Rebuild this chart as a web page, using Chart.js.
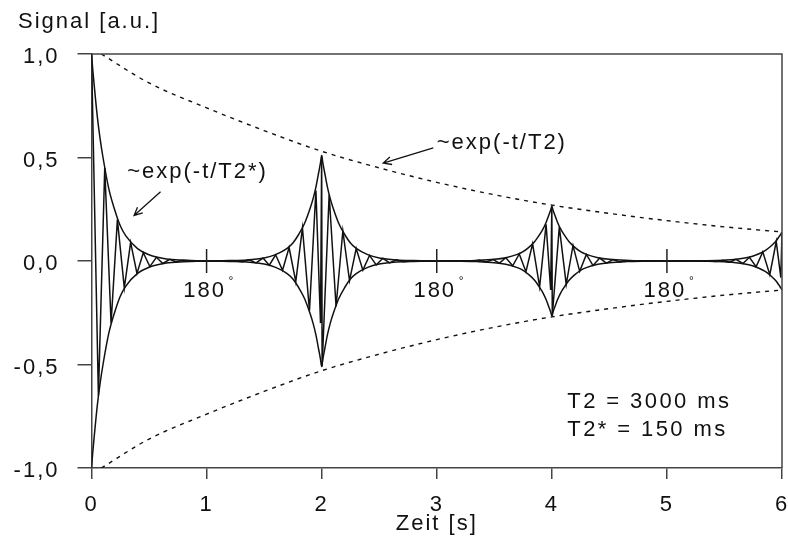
<!DOCTYPE html>
<html>
<head>
<meta charset="utf-8">
<script src="https://cdn.jsdelivr.net/npm/chart.js@4.4.1/dist/chart.umd.min.js"></script>
<style>
  html, body { margin: 0; padding: 0; background: #fff; }
</style>
</head>
<body>
<canvas id="echoChart" width="788" height="540"></canvas>
<script>
// signal (zigzag between the envelopes)
const sigT = [
  0, 0.06, 0.115, 0.17, 0.225, 0.285, 0.34, 0.395, 0.45, 0.507, 0.564, 0.62, 0.68, 0.735, 0.79, 0.9, 1.25,
  1.31, 1.37, 1.43, 1.49, 1.545, 1.6, 1.66, 1.717, 1.775, 1.833, 1.894, 1.95, 1.99, 2.0, 2.004,
  2.065, 2.125, 2.184, 2.242, 2.3, 2.358, 2.416, 2.474, 2.532, 2.59, 2.648, 2.706, 2.8, 3.3,
  3.37, 3.43, 3.49, 3.545, 3.6, 3.66, 3.717, 3.775, 3.833, 3.894, 3.95, 3.99, 4.0, 4.004,
  4.065, 4.125, 4.184, 4.242, 4.3, 4.358, 4.416, 4.474, 4.532, 4.59, 4.648, 4.8, 5.35,
  5.43, 5.49, 5.545, 5.6, 5.66, 5.717, 5.775, 5.833, 5.894, 5.95, 5.99, 6.0
];
const sigV = [
  1.0, -0.65, 0.45, -0.3, 0.2, -0.13, 0.09, -0.06, 0.04, -0.027, 0.018, -0.012, 0.008, -0.005, 0.003, 0, 0,
  -0.004, 0.006, -0.009, 0.014, -0.02, 0.03, -0.045, 0.065, -0.1, 0.16, -0.24, 0.34, -0.3, 0.51, -0.51,
  0.32, -0.22, 0.145, -0.095, 0.06, -0.044, 0.027, -0.019, 0.013, -0.009, 0.006, -0.004, 0, 0,
  0.003, -0.005, 0.007, -0.01, 0.016, -0.023, 0.034, -0.052, 0.083, -0.125, 0.177, -0.14, 0.265, -0.265,
  0.165, -0.113, 0.075, -0.05, 0.032, -0.022, 0.014, -0.01, 0.007, -0.005, 0.003, 0, 0,
  -0.002, 0.004, -0.006, 0.008, -0.012, 0.018, -0.028, 0.044, -0.066, 0.094, -0.08, 0.14
];

// T2* envelope (magnitude)
const envT = [
  0, 0.01, 0.025, 0.05, 0.075, 0.1, 0.15, 0.2, 0.25, 0.3, 0.4, 0.5, 0.65, 0.8, 1.0,
  1.2, 1.35, 1.5, 1.6, 1.7, 1.75, 1.8, 1.85, 1.9, 1.925, 1.95, 1.975, 1.99, 2.0,
  2.01, 2.025, 2.05, 2.075, 2.1, 2.15, 2.2, 2.25, 2.3, 2.4, 2.5, 2.65, 2.8, 3.0,
  3.2, 3.35, 3.5, 3.6, 3.7, 3.75, 3.8, 3.85, 3.9, 3.925, 3.95, 3.975, 3.99, 4.0,
  4.01, 4.025, 4.05, 4.075, 4.1, 4.15, 4.2, 4.25, 4.3, 4.4, 4.5, 4.65, 4.8, 5.0,
  5.2, 5.35, 5.5, 5.6, 5.7, 5.75, 5.8, 5.85, 5.9, 5.925, 5.95, 5.975, 5.99, 6.0
];
const envV = [
  1.0, 0.93, 0.84, 0.7, 0.59, 0.5, 0.35, 0.25, 0.17, 0.12, 0.06, 0.03, 0.01, 0.004, 0,
  0.002, 0.005, 0.015, 0.031, 0.061, 0.087, 0.128, 0.18, 0.255, 0.3, 0.357, 0.43, 0.475, 0.51,
  0.475, 0.43, 0.357, 0.3, 0.255, 0.18, 0.128, 0.087, 0.061, 0.031, 0.015, 0.005, 0.002, 0,
  0.001, 0.003, 0.008, 0.016, 0.032, 0.045, 0.066, 0.093, 0.133, 0.156, 0.186, 0.223, 0.246, 0.265,
  0.246, 0.223, 0.186, 0.156, 0.133, 0.093, 0.066, 0.045, 0.032, 0.016, 0.008, 0.003, 0.001, 0,
  0, 0.001, 0.004, 0.008, 0.017, 0.024, 0.035, 0.049, 0.07, 0.083, 0.098, 0.118, 0.13, 0.14
];

// T2 decay (dotted)
const decT = [0.085, 0.5, 1, 1.5, 2, 2.5, 3, 3.5, 4, 4.5, 5, 5.5, 6];
const decV = [1.0, 0.86, 0.74, 0.63, 0.53, 0.45, 0.38, 0.32, 0.27, 0.23, 0.195, 0.165, 0.14];

// 180° pulses
const pulseT = [1, 3, 5];

// ticks
const xTickVals = [0, 1, 2, 3, 4, 5, 6];
const xTickLabels = ['0', '1', '2', '3', '4', '5', '6'];
const yTickVals = [-1, -0.5, 0, 0.5, 1];
const yTickLabels = ['-1,0', '-0,5', '0,0', '0,5', '1,0'];

const FONT = "'Liberation Sans', Arial, sans-serif";
const SPACING = '2px';

function pts(ts, vs, sign) {
  return ts.map((t, i) => ({x: t, y: sign * vs[i]}));
}

function arrow(ctx, x1, y1, x2, y2) {
  const a = Math.atan2(y2 - y1, x2 - x1);
  const h = 9;
  ctx.beginPath();
  ctx.moveTo(x1, y1);
  ctx.lineTo(x2, y2);
  ctx.moveTo(x2 - h * Math.cos(a - 0.45), y2 - h * Math.sin(a - 0.45));
  ctx.lineTo(x2, y2);
  ctx.lineTo(x2 - h * Math.cos(a + 0.45), y2 - h * Math.sin(a + 0.45));
  ctx.stroke();
}

const extras = {
  id: 'extras',
  beforeUpdate(chart) { chart.ctx.letterSpacing = SPACING; },
  beforeDraw(chart) { chart.ctx.letterSpacing = SPACING; },
  afterDraw(chart) {
    const {ctx, chartArea: a, scales: {x, y}} = chart;
    ctx.save();
    ctx.letterSpacing = SPACING;

    // frame top + right
    ctx.strokeStyle = '#444';
    ctx.lineWidth = 1.5;
    ctx.beginPath();
    ctx.moveTo(a.left, a.top);
    ctx.lineTo(a.right, a.top);
    ctx.lineTo(a.right, a.bottom);
    ctx.stroke();

    // 180° markers on the zero line
    const y0 = y.getPixelForValue(0);
    ctx.strokeStyle = '#222';
    ctx.fillStyle = '#111';
    ctx.textBaseline = 'middle';
    pulseT.forEach(t => {
      const px = x.getPixelForValue(t);
      ctx.beginPath();
      ctx.moveTo(px, y0 - 12);
      ctx.lineTo(px, y0 + 12);
      ctx.stroke();
      ctx.font = '22px ' + FONT;
      ctx.textAlign = 'center';
      ctx.fillText('180', px - 2, y0 + 30);
      ctx.font = '12px ' + FONT;
      ctx.textAlign = 'left';
      ctx.fillText('°', px + 22, y0 + 21);
    });

    // labels
    ctx.font = '22px ' + FONT;
    ctx.textAlign = 'left';
    ctx.fillText('Signal [a.u.]', 18, 22);
    ctx.fillText('~exp(-t/T2*)', x.getPixelForValue(0.31), y.getPixelForValue(0.43));
    ctx.fillText('~exp(-t/T2)', x.getPixelForValue(3.0), y.getPixelForValue(0.57));

    ctx.letterSpacing = '2.4px';
    ctx.fillText('T2 = 3000 ms', x.getPixelForValue(4.135), y.getPixelForValue(-0.68));
    ctx.fillText('T2* = 150 ms', x.getPixelForValue(4.135), y.getPixelForValue(-0.816));

    // arrows
    ctx.strokeStyle = '#111';
    ctx.lineWidth = 1.3;
    arrow(ctx, x.getPixelForValue(0.6), y.getPixelForValue(0.335),
               x.getPixelForValue(0.37), y.getPixelForValue(0.22));
    arrow(ctx, x.getPixelForValue(2.97), y.getPixelForValue(0.546),
               x.getPixelForValue(2.535), y.getPixelForValue(0.473));
    ctx.restore();
  }
};

const lineStyle = {borderColor: '#111', pointRadius: 0, fill: false};

const config = {
  type: 'line',
  data: {
    datasets: [
      Object.assign({data: pts(decT, decV, 1), borderWidth: 1.4, borderDash: [4, 5], cubicInterpolationMode: 'monotone'}, lineStyle),
      Object.assign({data: pts(decT, decV, -1), borderWidth: 1.4, borderDash: [4, 5], cubicInterpolationMode: 'monotone'}, lineStyle),
      Object.assign({data: pts(envT, envV, 1), borderWidth: 1.5, cubicInterpolationMode: 'monotone'}, lineStyle),
      Object.assign({data: pts(envT, envV, -1), borderWidth: 1.5, cubicInterpolationMode: 'monotone'}, lineStyle),
      Object.assign({data: pts(sigT, sigV, 1), borderWidth: 1.5, tension: 0}, lineStyle)
    ]
  },
  options: {
    responsive: false,
    animation: false,
    layout: {padding: {top: 54, right: 6, left: 0, bottom: 0}},
    plugins: {legend: {display: false}, tooltip: {enabled: false}},
    scales: {
      x: {
        type: 'linear', min: 0, max: 6,
        afterBuildTicks: s => { s.ticks = xTickVals.map(v => ({value: v})); },
        afterFit: s => { s.height = 72; s.paddingLeft = 0; s.paddingRight = 0; },
        grid: {drawOnChartArea: false, drawTicks: true, tickLength: 11, color: '#444', lineWidth: 1.5},
        border: {display: true, color: '#444', width: 1.5},
        ticks: {
          padding: 13, color: '#111', maxRotation: 0,
          font: {family: FONT, size: 22},
          callback: v => xTickLabels[xTickVals.indexOf(v)]
        },
        title: {display: true, text: 'Zeit [s]', color: '#111', font: {family: FONT, size: 22}, padding: {top: 0, bottom: 3}}
      },
      y: {
        type: 'linear', min: -1, max: 1,
        afterBuildTicks: s => { s.ticks = yTickVals.map(v => ({value: v})); },
        afterFit: s => { s.width = 91.5; s.paddingTop = 0; s.paddingBottom = 0; },
        grid: {drawOnChartArea: false, drawTicks: true, tickLength: 14, color: '#444', lineWidth: 1.5},
        border: {display: true, color: '#444', width: 1.5},
        ticks: {
          padding: 18, color: '#111', labelOffset: 3,
          font: {family: FONT, size: 22},
          callback: v => yTickLabels[yTickVals.indexOf(v)]
        }
      }
    }
  },
  plugins: [extras]
};

new Chart(document.getElementById('echoChart'), config);
</script>
</body>
</html>
